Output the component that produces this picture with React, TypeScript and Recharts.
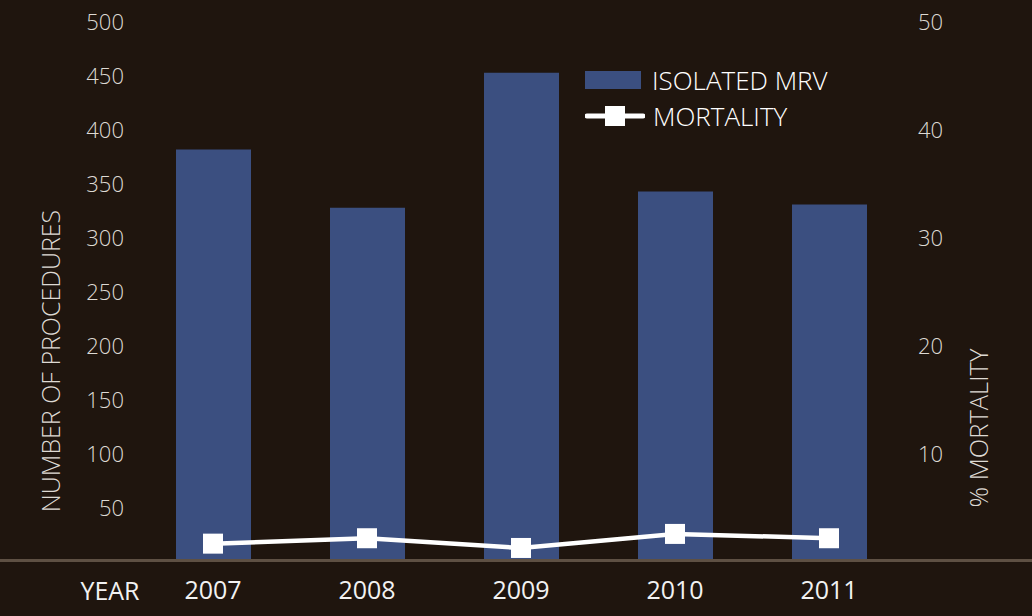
import React from 'react';
import { ComposedChart, Bar, Line, XAxis, YAxis, Legend } from 'recharts';

const years = ['2007', '2008', '2009', '2010', '2011'];
const procedures = [382, 328, 453, 343, 331];
const mortality = [1.7, 2.2, 1.3, 2.6, 2.2];
const leftTicks = [50, 100, 150, 200, 250, 300, 350, 400, 450, 500];
const rightTicks = [10, 20, 30, 40, 50];

const data = years.map((y, i) => ({ year: y, procedures: procedures[i], mortality: mortality[i] }));

const BG = '#1f150e';
const BLUE = '#3b4f80';
const FONT = '"Open Sans", "Noto Sans", sans-serif';
const TICK_COLOR = '#dedad4';

const SquareDot = (props: any) => {
  const { cx, cy } = props;
  if (cx == null || cy == null) return null;
  return <rect x={cx - 10} y={cy - 10} width={20} height={20} fill="#ffffff" />;
};

const LegendContent = () => (
  <div style={{ fontFamily: FONT, color: '#ffffff', fontSize: 26, fontWeight: 300 }}>
    <div style={{ display: 'flex', alignItems: 'center', height: 36 }}>
      <div style={{ width: 56, height: 18, background: BLUE, marginRight: 11 }} />
      <span>ISOLATED MRV</span>
    </div>
    <div style={{ display: 'flex', alignItems: 'center', height: 36 }}>
      <svg width={60} height={22} style={{ marginRight: 8 }}>
        <line x1={2} y1={11} x2={58} y2={11} stroke="#fff" strokeWidth={5} strokeLinecap="round" />
        <rect x={20} y={1} width={20} height={20} fill="#fff" />
      </svg>
      <span>MORTALITY</span>
    </div>
  </div>
);

const LeftLabel = (props: any) => {
  const { viewBox } = props;
  const cx = viewBox.x + 50;
  const cy = viewBox.y + viewBox.height / 2 + 69;
  return (
    <text x={cx} y={cy} transform={`rotate(-90 ${cx} ${cy})`} textAnchor="middle" dominantBaseline="central"
      fill={TICK_COLOR} fontFamily={FONT} fontWeight={300} fontSize={25}>NUMBER OF PROCEDURES</text>
  );
};

const RightLabel = (props: any) => {
  const { viewBox } = props;
  const cx = viewBox.x + 72;
  const cy = viewBox.y + viewBox.height / 2 + 136;
  return (
    <text x={cx} y={cy} transform={`rotate(-90 ${cx} ${cy})`} textAnchor="middle" dominantBaseline="central"
      fill={TICK_COLOR} fontFamily={FONT} fontWeight={300} fontSize={25.5}>% MORTALITY</text>
  );
};

const YearLabel = (props: any) => {
  const { viewBox } = props;
  return (
    <text x={viewBox.x - 26} y={viewBox.y + 28} textAnchor="middle" dominantBaseline="central"
      fill="#f2f2f2" fontFamily={FONT} fontSize={25}>YEAR</text>
  );
};

export default function App() {
  return (
    <div style={{ position: 'absolute', left: 0, top: 0, width: 1032, height: 616, background: BG }}>
      <ComposedChart width={1032} height={616} data={data} margin={{ top: 22, right: 0, bottom: 0, left: 0 }}>
        <XAxis dataKey="year" height={54} axisLine={false} tickLine={false} tickSize={0} tickMargin={19}
          tick={{ fill: '#f2f2f2', fontFamily: FONT, fontSize: 25 }} label={<YearLabel />} />
        <YAxis yAxisId="left" orientation="left" width={136} domain={[0, 500]} ticks={leftTicks}
          axisLine={false} tickLine={false} tickSize={0} tickMargin={12} interval={0}
          tick={{ fill: TICK_COLOR, fontFamily: FONT, fontSize: 22, fontWeight: 300 }} label={<LeftLabel />} />
        <YAxis yAxisId="right" orientation="right" width={126} domain={[0, 50]} ticks={rightTicks}
          axisLine={false} tickLine={false} tickSize={0} tickMargin={12} interval={0}
          tick={{ fill: TICK_COLOR, fontFamily: FONT, fontSize: 22, fontWeight: 300, textAnchor: 'start' }} label={<RightLabel />} />
        <Bar yAxisId="left" dataKey="procedures" name="ISOLATED MRV" fill={BLUE} barSize={75} isAnimationActive={false} />
        <Line yAxisId="right" dataKey="mortality" name="MORTALITY" stroke="#ffffff" strokeWidth={4.5}
          dot={<SquareDot />} activeDot={false} isAnimationActive={false} />
        <Legend content={<LegendContent />} layout="vertical" align="center" verticalAlign="middle"
          wrapperStyle={{ position: 'absolute', left: 585, top: 62, width: 320 }} />
      </ComposedChart>
      <div style={{ position: 'absolute', left: 0, top: 559, width: 1032, height: 3, background: '#5e5043' }} />
    </div>
  );
}
